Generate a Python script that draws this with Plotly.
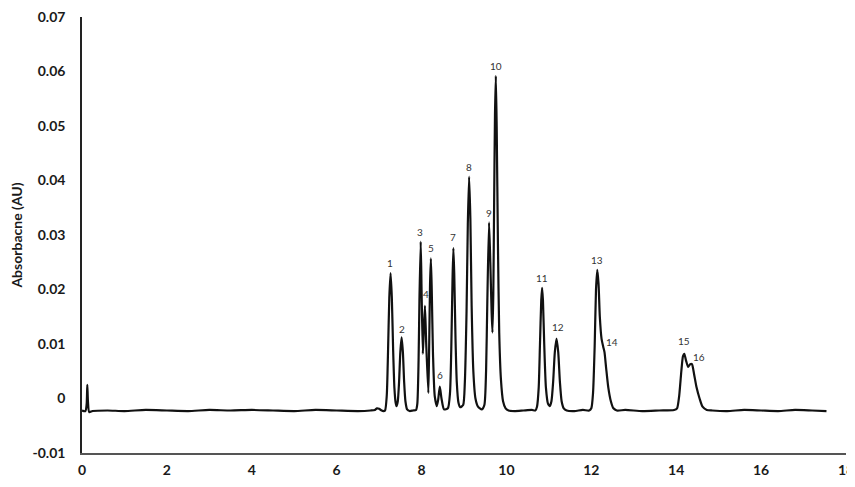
import plotly.graph_objects as go

# Chromatogram trace (time in min, absorbance in AU)
time_min = [
    0.00, 0.08, 0.11, 0.125, 0.14, 0.17, 0.25, 0.6, 1.0, 1.5, 2.0, 2.5, 3.0, 3.5, 4.0, 4.5,
    5.0, 5.5, 6.0, 6.5, 6.8, 6.90, 6.95, 7.00, 7.06, 7.10,
    7.14, 7.18, 7.21, 7.24, 7.27, 7.30, 7.33, 7.36, 7.39, 7.41,
    7.44, 7.47, 7.50, 7.53, 7.56, 7.59, 7.62, 7.66, 7.72, 7.80, 7.87,
    7.90, 7.93, 7.95, 7.98, 8.00, 8.03,
    8.05, 8.08, 8.11, 8.16,
    8.18, 8.20, 8.22, 8.24, 8.27, 8.31, 8.36,
    8.39, 8.43, 8.47, 8.53,
    8.62, 8.67, 8.70, 8.73, 8.75, 8.77, 8.80, 8.83, 8.87, 8.91,
    8.98, 9.02, 9.06, 9.09, 9.12, 9.15, 9.18, 9.22, 9.27, 9.33, 9.42,
    9.48, 9.52, 9.55, 9.59, 9.62, 9.65, 9.67,
    9.69, 9.71, 9.73, 9.75, 9.77, 9.80, 9.83, 9.87, 9.92, 9.98, 10.05,
    10.2, 10.4, 10.6, 10.68,
    10.72, 10.76, 10.79, 10.82, 10.84, 10.86, 10.89, 10.93, 10.98, 11.02,
    11.06, 11.10, 11.14, 11.18, 11.22, 11.26, 11.30, 11.35, 11.42,
    11.6, 11.8, 11.95,
    12.00, 12.04, 12.08, 12.11, 12.14, 12.17, 12.20, 12.24, 12.28, 12.31, 12.35, 12.40, 12.46, 12.52, 12.60,
    12.8, 13.2, 13.6, 13.95,
    14.02, 14.07, 14.12, 14.16, 14.19, 14.23, 14.28, 14.33, 14.37, 14.42, 14.48, 14.55, 14.62, 14.72, 14.85,
    15.2, 15.6, 16.0, 16.4, 16.8, 17.2, 17.54,
]
absorbance = [
    -0.0022, -0.0023, -0.0010, 0.0025, -0.0005, -0.0025, -0.0023, -0.0022, -0.0023, -0.0021, -0.0022, -0.0023, -0.0021, -0.0022, -0.0021, -0.0022,
    -0.0023, -0.0021, -0.0022, -0.0023, -0.0022, -0.0021, -0.0018, -0.0019, -0.0022, -0.0023,
    -0.0022, 0.0005, 0.0085, 0.0185, 0.0230, 0.0185, 0.0090, 0.0020, -0.0008, -0.0014,
    -0.0005, 0.0030, 0.0085, 0.0112, 0.0085, 0.0030, -0.0005, -0.0020, -0.0023, -0.0022, -0.0021,
    -0.0010, 0.0070, 0.0180, 0.0288, 0.0200, 0.0082,
    0.0120, 0.0170, 0.0100, 0.0010,
    0.0100, 0.0210, 0.0257, 0.0200, 0.0080, 0.0005, -0.0014,
    -0.0003, 0.0022, 0.0000, -0.0020,
    -0.0018, 0.0010, 0.0090, 0.0220, 0.0276, 0.0230, 0.0110, 0.0030, -0.0008, -0.0016,
    -0.0012, 0.0030, 0.0160, 0.0320, 0.0407, 0.0330, 0.0170, 0.0050, 0.0000, -0.0015, -0.0020,
    -0.0012, 0.0050, 0.0180, 0.0323, 0.0250, 0.0160, 0.0121,
    0.0190, 0.0360, 0.0520, 0.0592, 0.0500, 0.0280, 0.0120, 0.0035, -0.0005, -0.0018, -0.0022,
    -0.0023, -0.0022, -0.0021, -0.0022,
    -0.0015, 0.0020, 0.0100, 0.0180, 0.0203, 0.0180, 0.0100, 0.0020, -0.0010, -0.0014,
    -0.0005, 0.0030, 0.0085, 0.0110, 0.0085, 0.0030, -0.0005, -0.0018, -0.0022,
    -0.0023, -0.0021, -0.0022,
    -0.0018, 0.0010, 0.0100, 0.0200, 0.0236, 0.0210, 0.0150, 0.0110, 0.0095, 0.0085, 0.0055, 0.0020, -0.0005, -0.0018, -0.0022,
    -0.0021, -0.0023, -0.0022, -0.0021,
    -0.0018, 0.0005, 0.0050, 0.0078, 0.0082, 0.0070, 0.0058, 0.0063, 0.0063, 0.0045, 0.0020, 0.0000, -0.0015, -0.0021, -0.0022,
    -0.0023, -0.0021, -0.0022, -0.0023, -0.0021, -0.0022, -0.0023,
]

# Peak labels and where they sit (time, absorbance)
peak_labels = ["1", "2", "3", "4", "5", "6", "7", "8", "9", "10", "11", "12", "13", "14", "15", "16"]
label_time = [7.26, 7.54, 7.96, 8.10, 8.22, 8.43, 8.75, 9.12, 9.59, 9.75, 10.84, 11.22, 12.14, 12.48, 14.19, 14.53]
label_abs = [0.0249, 0.0127, 0.0305, 0.0192, 0.0276, 0.0043, 0.0296, 0.0425, 0.0340, 0.0611, 0.0222, 0.0131, 0.0254, 0.0103, 0.0106, 0.0076]

x_ticks = [0, 2, 4, 6, 8, 10, 12, 14, 16, 18]
y_ticks = [-0.01, 0, 0.01, 0.02, 0.03, 0.04, 0.05, 0.06, 0.07]
y_tick_text = ["-0.01", "0", "0.01", "0.02", "0.03", "0.04", "0.05", "0.06", "0.07"]

fig = go.Figure()
fig.add_trace(go.Scatter(
    x=time_min, y=absorbance, mode="lines",
    line=dict(color="#111111", width=2.2, shape="spline", smoothing=0.6),
    showlegend=False, hoverinfo="x+y",
))

for lab, tx, ty in zip(peak_labels, label_time, label_abs):
    fig.add_annotation(x=tx, y=ty, text=lab, showarrow=False,
                       font=dict(family="Lato", size=10, color="#333333"),
                       xanchor="center", yanchor="middle")

tick_font = dict(family="Lato", size=14, color="#1a1a1a", weight="bold")
fig.update_layout(
    width=847, height=471,
    margin=dict(l=74, r=9, t=9, b=26, autoexpand=False),
    paper_bgcolor="white", plot_bgcolor="white",
    font=dict(family="Lato"),
    xaxis=dict(range=[0, 18], tickvals=x_ticks, showgrid=False, zeroline=False,
               showline=True, linecolor="#555555", linewidth=2, ticks="",
               tickfont=tick_font, ticklabelstandoff=3, automargin=False,
               ticklabeloverflow="allow"),
    yaxis=dict(range=[-0.01, 0.07], tickvals=y_ticks, ticktext=y_tick_text,
               showgrid=False, zeroline=False, showline=True, linecolor="#222222",
               linewidth=1.5, ticks="", tickfont=tick_font, ticklabelstandoff=12,
               automargin=False, ticklabeloverflow="allow",
               title=dict(text="Absorbacne (AU)", font=dict(family="Lato", size=14, color="#1a1a1a", weight="bold"),
                          standoff=8)),
)

fig.write_html("out.html")
